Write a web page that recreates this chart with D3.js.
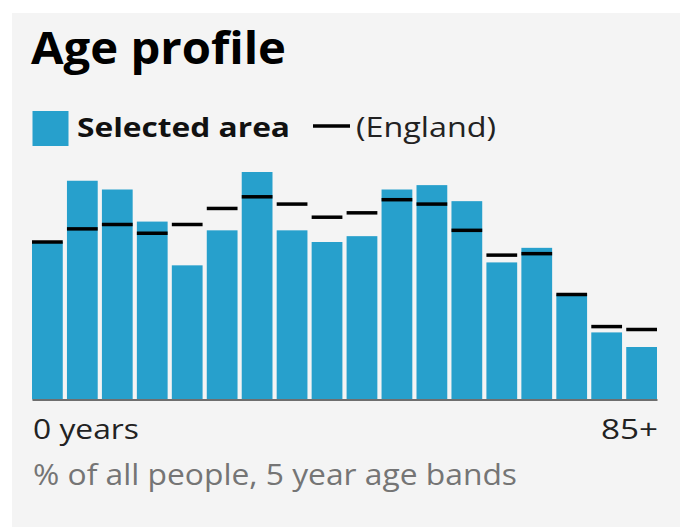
<!DOCTYPE html>
<html>
<head>
<meta charset="utf-8">
<script src="https://cdn.jsdelivr.net/npm/d3@7"></script>
<style>
  html, body { margin: 0; padding: 0; background: #ffffff; }
  svg { display: block; }
  text { font-family: "Open Sans", sans-serif; }
</style>
</head>
<body>
<svg id="chart" width="680" height="527"></svg>
<script>
// Age bands (5-year)
const ageBands = ["0-4","5-9","10-14","15-19","20-24","25-29","30-34","35-39","40-44",
                  "45-49","50-54","55-59","60-64","65-69","70-74","75-79","80-84","85+"];
// % of all people, selected area
const selectedArea = [5.4, 7.5, 7.2, 6.1, 4.6, 5.8, 7.8, 5.8, 5.4,
                      5.6, 7.2, 7.35, 6.8, 4.7, 5.2, 3.6, 2.3, 1.8];
// % of all people, England
const england = [5.4, 5.85, 6.0, 5.7, 6.0, 6.55, 6.95, 6.7, 6.25,
                 6.4, 6.85, 6.7, 5.8, 4.95, 5.0, 3.6, 2.5, 2.4];
const axisLabels = ["0 years", "85+"];
const titleText = "Age profile";
const legendLabels = ["Selected area", "(England)"];
const captionText = "% of all people, 5 year age bands";

const svg = d3.select("#chart");
const W = 680, H = 527;

// panel background
svg.append("rect").attr("x", 12).attr("y", 13).attr("width", W - 12).attr("height", H - 13)
   .attr("fill", "#f4f4f4");

const x = d3.scaleBand().domain(ageBands).range([32, 657]).paddingInner(0.12).paddingOuter(0);
const yMax = d3.max(selectedArea.concat(england));
const y = d3.scaleLinear().domain([0, yMax]).range([399.5, 172]);

// title
svg.append("text").attr("x", 31).attr("y", 63.5)
   .attr("font-size", 45).attr("font-weight", 700).attr("fill", "#000")
   .attr("textLength", 255).attr("lengthAdjust", "spacingAndGlyphs")
   .text(titleText);

// legend
svg.append("rect").attr("x", 32.5).attr("y", 111).attr("width", 36).attr("height", 35)
   .attr("fill", "#27a0cc");
svg.append("text").attr("x", 77).attr("y", 137)
   .attr("font-size", 27).attr("font-weight", 700).attr("fill", "#111")
   .attr("textLength", 213).attr("lengthAdjust", "spacingAndGlyphs")
   .text(legendLabels[0]);
svg.append("line").attr("x1", 313).attr("x2", 350).attr("y1", 126).attr("y2", 126)
   .attr("stroke", "#000").attr("stroke-width", 3.5);
svg.append("text").attr("x", 356).attr("y", 137)
   .attr("font-size", 27).attr("fill", "#222")
   .attr("textLength", 140).attr("lengthAdjust", "spacingAndGlyphs")
   .text(legendLabels[1]);

// bars
svg.append("g").selectAll("rect").data(selectedArea).join("rect")
   .attr("x", (d, i) => x(ageBands[i]))
   .attr("width", x.bandwidth())
   .attr("y", d => y(d))
   .attr("height", d => y(0) - y(d))
   .attr("fill", "#27a0cc");

// baseline axis
const axisG = svg.append("g").attr("transform", `translate(0,${y(0)})`)
   .call(d3.axisBottom(x).tickSize(0).tickFormat(""));
axisG.select(".domain").attr("stroke", "#6e6e6e").attr("stroke-width", 2);

// England markers
svg.append("g").selectAll("line").data(england).join("line")
   .attr("x1", (d, i) => x(ageBands[i]))
   .attr("x2", (d, i) => x(ageBands[i]) + x.bandwidth())
   .attr("y1", d => y(d)).attr("y2", d => y(d))
   .attr("stroke", "#000").attr("stroke-width", 3.5);

// axis end labels
svg.append("text").attr("x", 33).attr("y", 439)
   .attr("font-size", 28).attr("fill", "#222")
   .attr("textLength", 106).attr("lengthAdjust", "spacingAndGlyphs")
   .text(axisLabels[0]);
svg.append("text").attr("x", 658).attr("y", 439)
   .attr("text-anchor", "end")
   .attr("font-size", 28).attr("fill", "#222")
   .attr("textLength", 57).attr("lengthAdjust", "spacingAndGlyphs")
   .text(axisLabels[1]);

// caption
svg.append("text").attr("x", 33).attr("y", 485)
   .attr("font-size", 28.5).attr("fill", "#757575")
   .attr("textLength", 484).attr("lengthAdjust", "spacingAndGlyphs")
   .text(captionText);
</script>
</body>
</html>
